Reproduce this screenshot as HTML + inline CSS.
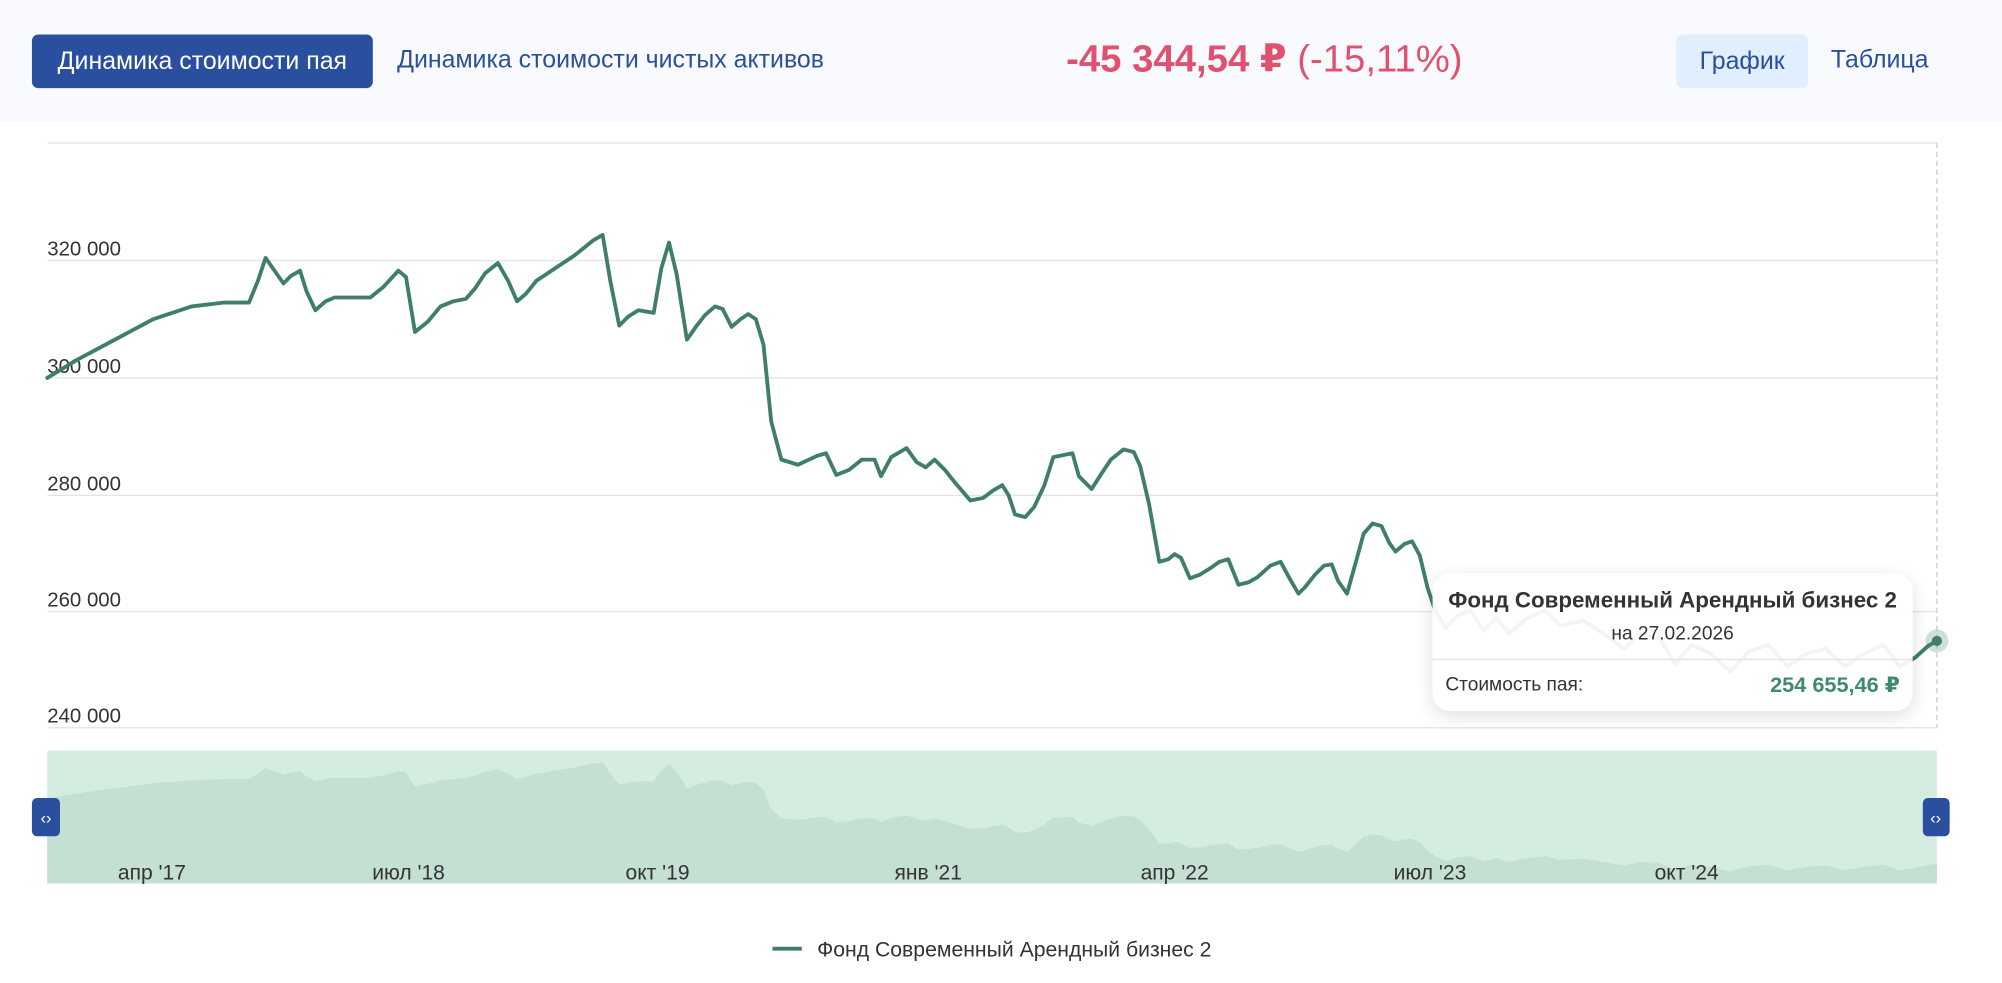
<!DOCTYPE html>
<html><head><meta charset="utf-8"><style>
html,body{margin:0;padding:0;width:2002px;height:982px;overflow:hidden;background:#fff;}
#w{position:absolute;left:0;top:0;width:1568px;height:770px;transform:scale(1.27678);transform-origin:0 0;font-family:"Liberation Sans","DejaVu Sans",sans-serif;}
.hdr{position:absolute;left:0;top:0;width:1568px;height:96px;background:#f9fafd;}
.btn{position:absolute;top:27px;height:42px;line-height:42px;border-radius:5px;font-size:19.5px;padding:0;text-align:center;}
.t{position:absolute;white-space:nowrap;}
</style></head><body><div id="w">
<div class="hdr"></div>
<div class="btn" style="left:25px;width:267px;background:#294f9e;color:#fff;">Динамика стоимости пая</div>
<div class="t" style="left:311px;top:36px;font-size:19.5px;color:#294f9e;">Динамика стоимости чистых активов</div>
<div class="t" style="left:835px;top:29px;font-size:30px;color:#e0506f;"><b>-45 344,54 ₽</b> (-15,11%)</div>
<div class="btn" style="left:1313px;width:103px;background:#e0eefd;color:#294f9e;">График</div>
<div class="t" style="left:1434px;top:36px;font-size:19.5px;color:#294f9e;">Таблица</div>

<svg style="position:absolute;left:0;top:0" width="1568" height="770" viewBox="0 0 1568 770">
<g stroke="#e3e3e3" stroke-width="1">
<line x1="37" x2="1517" y1="112" y2="112"/><line x1="37" x2="1517" y1="204" y2="204"/><line x1="37" x2="1517" y1="296" y2="296"/><line x1="37" x2="1517" y1="388" y2="388"/><line x1="37" x2="1517" y1="479" y2="479"/><line x1="37" x2="1517" y1="570" y2="570"/>
</g>
<g font-size="16" fill="#333" font-family="Liberation Sans, DejaVu Sans, sans-serif">
<text x="37" y="200">320 000</text><text x="37" y="292">300 000</text><text x="37" y="384">280 000</text><text x="37" y="475">260 000</text><text x="37" y="566">240 000</text>
</g>
<line x1="1517" x2="1517" y1="112" y2="570" stroke="#c8c8c8" stroke-dasharray="4,3"/>
<defs><polyline id="s" fill="none" points="37,296 60,282 90,266 120,250 150,240 175,237 195,237 202,220 208,202 215,212 222,222 228,216 235,212 240,228 247,243 255,236 262,233 290,233 300,225 312,212 318,217 325,260 335,252 345,240 355,236 365,234 372,226 380,214 390,206 398,220 405,236 412,230 420,220 435,210 450,200 465,188 472,184 478,220 485,255 492,248 500,243 512,245 518,210 524,190 530,215 538,266 545,256 552,247 560,240 566,242 573,256 580,250 586,246 592,250 598,270 604,330 612,360 625,364 640,357 647,355 655,372 665,368 675,360 685,360 690,373 698,358 710,351 718,362 725,366 732,360 740,368 748,378 760,392 770,390 778,384 785,380 790,388 795,403 803,405 810,397 818,380 825,358 840,355 845,373 855,383 862,372 870,360 880,352 888,354 893,365 900,395 908,440 915,438 920,434 925,437 932,453 940,450 948,445 955,440 962,438 970,458 978,456 985,452 995,443 1003,440 1010,453 1017,465 1022,460 1030,450 1037,443 1043,442 1048,455 1055,465 1062,440 1068,418 1075,410 1082,412 1088,425 1093,432 1100,426 1106,424 1112,435 1118,460 1124,478 1132,492 1142,482 1152,478 1162,494 1172,484 1182,496 1195,485 1210,478 1222,490 1240,486 1258,498 1272,508 1285,496 1300,500 1312,520 1325,505 1340,512 1355,526 1370,510 1385,505 1400,522 1415,512 1430,508 1445,522 1460,512 1475,505 1488,522 1500,515 1510,506 1517,502"/></defs>
<rect x="37" y="588" width="1480" height="104" fill="#d4ede0"/>
<g transform="translate(0,551) scale(1,0.25)"><polygon fill="#c3e0d2" points="37,296 60,282 90,266 120,250 150,240 175,237 195,237 202,220 208,202 215,212 222,222 228,216 235,212 240,228 247,243 255,236 262,233 290,233 300,225 312,212 318,217 325,260 335,252 345,240 355,236 365,234 372,226 380,214 390,206 398,220 405,236 412,230 420,220 435,210 450,200 465,188 472,184 478,220 485,255 492,248 500,243 512,245 518,210 524,190 530,215 538,266 545,256 552,247 560,240 566,242 573,256 580,250 586,246 592,250 598,270 604,330 612,360 625,364 640,357 647,355 655,372 665,368 675,360 685,360 690,373 698,358 710,351 718,362 725,366 732,360 740,368 748,378 760,392 770,390 778,384 785,380 790,388 795,403 803,405 810,397 818,380 825,358 840,355 845,373 855,383 862,372 870,360 880,352 888,354 893,365 900,395 908,440 915,438 920,434 925,437 932,453 940,450 948,445 955,440 962,438 970,458 978,456 985,452 995,443 1003,440 1010,453 1017,465 1022,460 1030,450 1037,443 1043,442 1048,455 1055,465 1062,440 1068,418 1075,410 1082,412 1088,425 1093,432 1100,426 1106,424 1112,435 1118,460 1124,478 1132,492 1142,482 1152,478 1162,494 1172,484 1182,496 1195,485 1210,478 1222,490 1240,486 1258,498 1272,508 1285,496 1300,500 1312,520 1325,505 1340,512 1355,526 1370,510 1385,505 1400,522 1415,512 1430,508 1445,522 1460,512 1475,505 1488,522 1500,515 1510,506 1517,502 1517,564 37,564"/></g>
<use href="#s" stroke="#3f7f67" stroke-width="3" stroke-linejoin="round" stroke-linecap="round"/>
<circle cx="1517" cy="502" r="9" fill="#3f7f67" fill-opacity="0.25"/><circle cx="1517" cy="502" r="4" fill="#3f7f67"/>
<g font-size="16.5" fill="#333" text-anchor="middle" font-family="Liberation Sans, DejaVu Sans, sans-serif">
<text x="119" y="689">апр '17</text><text x="320" y="689">июл '18</text><text x="515" y="689">окт '19</text><text x="727" y="689">янв '21</text><text x="920" y="689">апр '22</text><text x="1120" y="689">июл '23</text><text x="1321" y="689">окт '24</text>
</g>
<rect x="25" y="625" width="22" height="30" rx="4" fill="#294f9e"/><text x="36" y="645" fill="#fff" font-size="13" text-anchor="middle">‹›</text>
<rect x="1506" y="625" width="21" height="30" rx="4" fill="#294f9e"/><text x="1516" y="645" fill="#fff" font-size="13" text-anchor="middle">‹›</text>
<line x1="605" x2="628" y1="743" y2="743" stroke="#3f7f67" stroke-width="3"/>
<text x="640" y="749" font-size="16.6" fill="#333">Фонд Современный Арендный бизнес 2</text>
</svg>
<div style="position:absolute;left:1122px;top:449px;width:376px;height:108px;border-radius:14px;background:rgba(255,255,255,0.93);box-shadow:0 4px 14px rgba(0,0,0,0.13);">
<div style="position:absolute;left:0;width:376px;top:11px;text-align:center;font-weight:bold;font-size:17.5px;color:#333;">Фонд Современный Арендный бизнес 2</div>
<div style="position:absolute;left:0;width:376px;top:39px;text-align:center;font-size:15px;color:#333;">на 27.02.2026</div>
<div style="position:absolute;left:0;width:376px;top:67px;border-top:1px solid #e3e3e3;"></div>
<div style="position:absolute;left:10px;top:79px;font-size:15px;color:#333;">Стоимость пая:</div>
<div style="position:absolute;right:10px;top:78px;font-size:17px;font-weight:bold;color:#3f8a6a;">254 655,46 ₽</div>
</div>
</div></body></html>
